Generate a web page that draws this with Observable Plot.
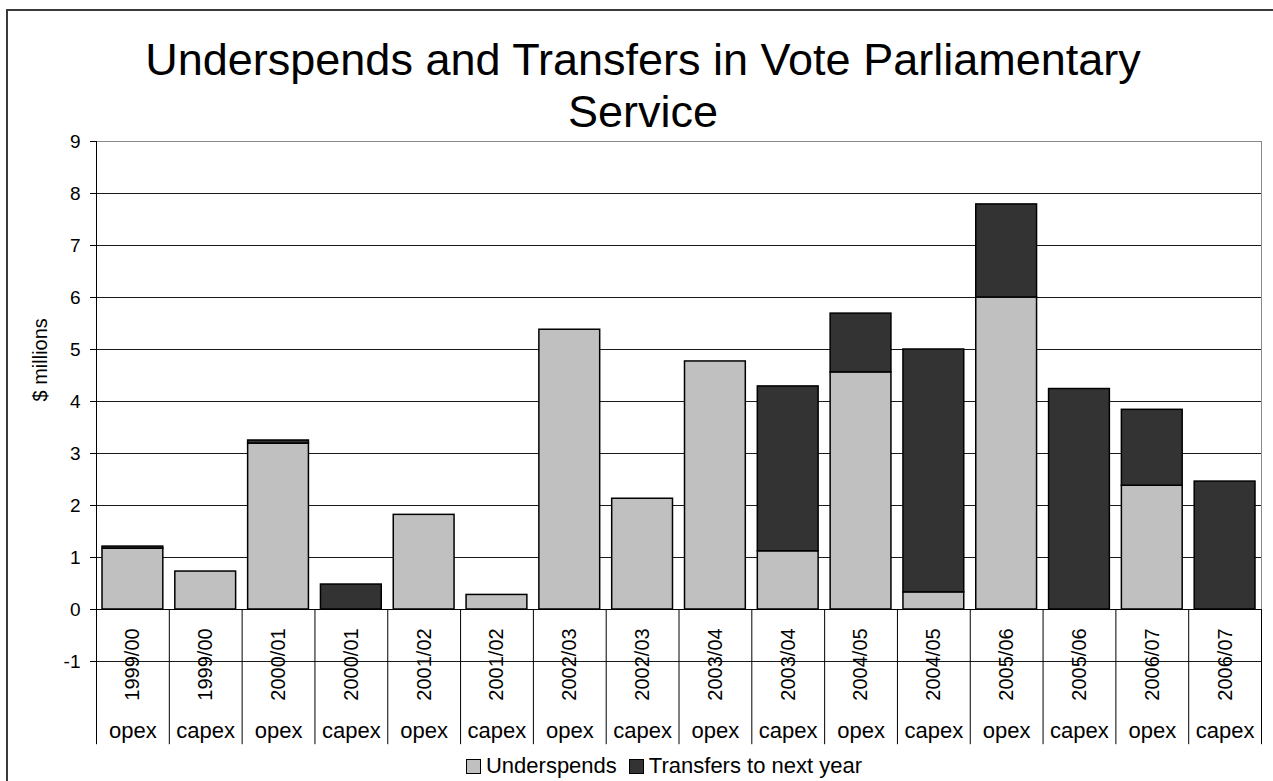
<!DOCTYPE html>
<html>
<head>
<meta charset="utf-8">
<script src="https://cdn.jsdelivr.net/npm/d3@7"></script>
<script src="https://cdn.jsdelivr.net/npm/@observablehq/plot@0.6"></script>
<style>
  html, body { margin: 0; padding: 0; background: #fff; overflow: hidden; }
  #wrap { position: relative; width: 1273px; height: 781px; overflow: hidden; font-family: "Liberation Sans", Arial, sans-serif; color: #000; background: #fff; }
  #outer { position: absolute; left: 6px; top: 9px; width: 1400px; height: 900px; border: 2px solid #3a3a3a; box-sizing: border-box; z-index: 5; pointer-events: none; }
  #title { position: absolute; left: 0; top: 34px; width: 1286px; text-align: center; font-size: 45px; line-height: 52px; }
  #chart { position: absolute; left: 0; top: 130px; }
  #legend { position: absolute; left: 0; top: 753px; width: 1328px; text-align: center; font-size: 22px; line-height: 26px; white-space: nowrap; }
  #legend .item { display: inline-block; margin: 0 6px; }
  #legend .sw { display: inline-block; width: 13px; height: 13px; border: 1px solid #000; margin-right: 5px; vertical-align: -1px; }
</style>
</head>
<body>
<div id="wrap">
  <div id="title">Underspends and Transfers in Vote Parliamentary<br>Service</div>
  <div id="chart"></div>
  <div id="legend"></div>
  <div id="outer"></div>
</div>
<script>
// ---- data ----
const years = ["1999/00","1999/00","2000/01","2000/01","2001/02","2001/02","2002/03","2002/03",
               "2003/04","2003/04","2004/05","2004/05","2005/06","2005/06","2006/07","2006/07"];
const budgetTypes = ["opex","capex","opex","capex","opex","capex","opex","capex",
                     "opex","capex","opex","capex","opex","capex","opex","capex"];
const underspends = [1.17, 0.73, 3.19, 0, 1.82, 0.28, 5.38, 2.13, 4.77, 1.12, 4.56, 0.33, 6.0, 0, 2.38, 0];
const transfers   = [0.04, 0, 0.06, 0.48, 0, 0, 0, 0, 0, 3.17, 1.13, 4.67, 1.79, 4.24, 1.46, 2.46];
const seriesNames = ["Underspends", "Transfers to next year"];
const seriesColors = ["#c0c0c0", "#333333"];
const yTicks = [-1, 0, 1, 2, 3, 4, 5, 6, 7, 8, 9];
const yTitle = "$ millions";

// ---- build ----
const keys = years.map((y, i) => `${y} ${budgetTypes[i]}`);
const rows = keys.flatMap((k, i) => [
  {key: k, series: seriesNames[0], value: underspends[i]},
  {key: k, series: seriesNames[1], value: transfers[i]}
]);
const cats = keys.map((k, i) => ({key: k, year: years[i], type: budgetTypes[i]}));

const W = 1273, H = 620;
const mL = 96, mR = 12, mT = 11, mB = 89;
const step = (W - mL - mR) / keys.length;
const gap = step * 0.0825;
const font = "Liberation Sans, Arial, sans-serif";

const chart = Plot.plot({
  width: W, height: H,
  marginLeft: mL, marginRight: mR, marginTop: mT, marginBottom: mB,
  style: {fontFamily: font, background: "transparent", color: "#000", overflow: "visible"},
  x: {domain: keys, padding: 0, round: false, axis: null},
  y: {domain: [-1, 9], axis: null},
  color: {domain: seriesNames, range: seriesColors},
  marks: [
    Plot.frame({stroke: "#8a8a8a"}),
    Plot.gridY(yTicks.filter(t => t < 9), {stroke: "#1a1a1a", strokeOpacity: 1}),
    Plot.barY(rows, Plot.stackY({x: "key", y: "value", fill: "series", filter: d => d.value > 0,
      insetLeft: gap, insetRight: gap, stroke: "#000", strokeWidth: 1.5})),
    Plot.ruleY([0], {stroke: "#000", strokeWidth: 1.2}),
    Plot.frame({anchor: "left", stroke: "#000"}),
    Plot.axisY(yTicks, {tickSize: 6, tickPadding: 10, fontSize: 19, tickFormat: d => String(d), label: null, stroke: "#000"}),
    Plot.ruleX(keys, {x: d => d, dx: step / 2, y1: () => 0, y2: () => -2.6, stroke: "#000", clip: false}),
    Plot.ruleX([keys[0]], {x: d => d, dx: -step / 2, y1: () => 0, y2: () => -2.6, stroke: "#000", clip: false}),
    Plot.text(cats, {x: "key", y: () => 0, text: "year", dy: 55, rotate: -90, fontSize: 20, fill: "#000"}),
    Plot.text(cats, {x: "key", y: () => 0, text: "type", dy: 121, fontSize: 22, fill: "#000"}),
    Plot.text([yTitle], {frameAnchor: "left", dx: -56, rotate: -90, fontSize: 20, fill: "#000"})
  ]
});
document.getElementById("chart").appendChild(chart);

// legend
const legend = document.getElementById("legend");
seriesNames.forEach((name, i) => {
  const item = document.createElement("span");
  item.className = "item";
  const sw = document.createElement("span");
  sw.className = "sw";
  sw.style.background = seriesColors[i];
  item.appendChild(sw);
  item.appendChild(document.createTextNode(name));
  legend.appendChild(item);
});
</script>
</body>
</html>
